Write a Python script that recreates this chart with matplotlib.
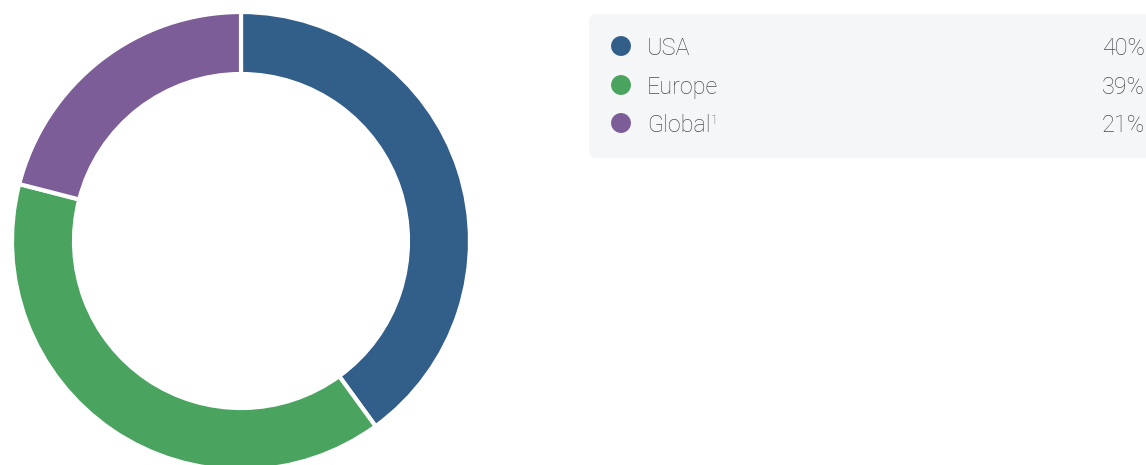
import matplotlib.pyplot as plt
from matplotlib.patches import FancyBboxPatch

# Share of assets by region
regions = ['USA', 'Europe', 'Global']
shares = [40, 39, 21]
colors = ['#325e8a', '#4aa45f', '#7d5d98']

W, H = 1146, 465
fig = plt.figure(figsize=(W / 100, H / 100), dpi=100)

# Donut chart
ax = fig.add_axes([12 / W, -5 / H, 458 / W, 458 / H])
ax.pie(shares, colors=colors, startangle=90, counterclock=False, radius=1,
       wedgeprops=dict(width=62 / 229, edgecolor='white', linewidth=3))
ax.set_xlim(-1, 1)
ax.set_ylim(-1, 1)
ax.set_aspect('equal')
ax.axis('off')

# Legend panel, drawn in pixel coordinates
lg = fig.add_axes([0, 0, 1, 1])
lg.set_xlim(0, W)
lg.set_ylim(H, 0)
lg.axis('off')
lg.add_patch(FancyBboxPatch((589, 14), 600, 144,
                            boxstyle='round,pad=0,rounding_size=8',
                            facecolor='#f5f6f8', edgecolor='none'))

txt = dict(va='baseline', fontsize=16.8, family='Roboto', fontweight='light',
           color='#4a4d52')
row_y = [46, 85, 123]
for name, val, c, y in zip(regions, shares, colors, row_y):
    lg.scatter(621, y, s=205, color=c, edgecolor='none')
    t = lg.text(647, y + 9, name, ha='left', **txt)
    lg.text(1145, y + 9, f'{val}%', ha='right', **txt)

# footnote marker after "Global"
fig.canvas.draw()
bb = t.get_window_extent()
lg.text(bb.x1 + 0.5, row_y[2] + 1, '1', va='baseline', ha='left',
        fontsize=9, family='Roboto', fontweight='light', color='#4a4d52')

plt.savefig('out.png', dpi=100)
